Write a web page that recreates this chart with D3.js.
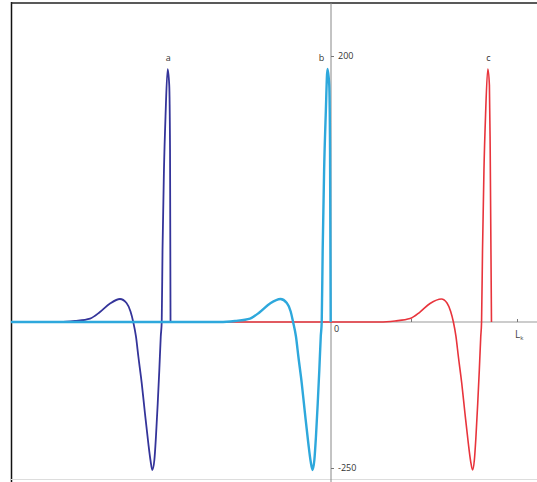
<!DOCTYPE html>
<meta charset="utf-8">
<style>
body { margin: 0; background: #fff; }
svg text { font-family: "Open Sans", "DejaVu Sans", sans-serif; }
.axis .domain { display: none; }
.axis line { stroke: #777; }
.axis text, .curveLabel, .origin { font-size: 9px; fill: #333; }
.lk { font-size: 10px; fill: #444; }
</style>
<svg width="537" height="482"></svg>
<script src="https://d3js.org/d3.v7.min.js"></script>
<script>
// curves: [x, value], each drops back to 0 at its end
var curveA = [[-2.0,0],[-1.694,0],[-1.6,0.8],[-1.506,2.6],[-1.444,7.5],[-1.381,13.9],[-1.319,17.3],
  [-1.278,14.3],[-1.253,7.9],[-1.236,0],[-1.219,-24.8],[-1.204,-59.1],[-1.183,-104.5],[-1.163,-155.8],
  [-1.142,-207.2],[-1.127,-238.9],[-1.117,-253.4],[-1.104,-236.3],[-1.094,-196.1],[-1.083,-139.6],
  [-1.073,-82.2],[-1.064,-24.8],[-1.058,0],[-1.053,54.1],[-1.044,114.3],[-1.034,155.6],[-1.021,190.2],
  [-1.011,178.2],[-1.006,129.3],[-1.003,0]];
var curveB = [[-2.0,0],[-0.694,0],[-0.6,0.8],[-0.506,2.6],[-0.444,7.5],[-0.381,13.9],[-0.316,17.3],
  [-0.276,14.3],[-0.252,7.9],[-0.237,0],[-0.219,-24.8],[-0.204,-59.1],[-0.183,-104.5],[-0.163,-155.8],
  [-0.142,-207.2],[-0.127,-238.9],[-0.115,-253.4],[-0.104,-236.3],[-0.094,-196.1],[-0.083,-139.6],
  [-0.073,-82.2],[-0.064,-24.8],[-0.058,0],[-0.052,54.1],[-0.043,114.3],[-0.033,155.6],[-0.022,190.2],
  [-0.011,178.2],[-0.006,129.3],[-0.002,0]];
var curveC = [[-2.0,0],[0.306,0],[0.4,0.8],[0.494,2.6],[0.556,7.5],[0.619,13.9],[0.69,17.3],
  [0.725,14.3],[0.748,7.9],[0.765,0],[0.781,-24.8],[0.796,-59.1],[0.817,-104.5],[0.837,-155.8],
  [0.858,-207.2],[0.873,-238.9],[0.885,-253.4],[0.896,-236.3],[0.906,-196.1],[0.917,-139.6],
  [0.927,-82.2],[0.936,-24.8],[0.941,0],[0.947,54.1],[0.956,114.3],[0.966,155.6],[0.98,190.2],
  [0.99,178.2],[0.995,129.3],[1.003,0]];
var curveNames = ["a", "b", "c"];
var curveColors = ["#34349a", "#2ea8dc", "#e8343c"];
var curveWidths = [1.8, 2.4, 1.6];
var yTicks = [200, -250];
var xTicks = [0.5, 1.1625];
var lkValue = 1.1625;

var svg = d3.select("svg"),
    g = svg.append("g");

var x = d3.scaleLinear().domain([-2, 1.2875]).range([11, 537]);
var y = d3.scaleLinear().domain([-250, 0, 200]).range([468, 322, 56]);

// frame
g.append("line").attr("x1", 11.5).attr("x2", 11.5).attr("y1", 2).attr("y2", 482)
  .attr("stroke", "#111").attr("stroke-width", 1.5);
g.append("line").attr("x1", 11).attr("x2", 537).attr("y1", 3).attr("y2", 3)
  .attr("stroke", "#222").attr("stroke-width", 1.5);
g.append("line").attr("x1", 11).attr("x2", 537).attr("y1", 479.5).attr("y2", 479.5)
  .attr("stroke", "#ddd");

// axes lines
g.append("line").attr("x1", x(0)).attr("x2", x(0)).attr("y1", 3).attr("y2", 482)
  .attr("stroke", "#888");
g.append("line").attr("x1", 11).attr("x2", 537).attr("y1", y(0)).attr("y2", y(0))
  .attr("stroke", "#999");

g.append("g")
  .attr("class", "axis")
  .attr("transform", "translate(" + x(0) + ",0)")
  .call(d3.axisRight(y).tickValues(yTicks).tickSize(3).tickPadding(4)
    .tickFormat(function(d) { return String(d); }));

g.append("g")
  .attr("class", "axis")
  .attr("transform", "translate(0," + y(0) + ")")
  .call(d3.axisTop(x).tickValues(xTicks).tickSize(3).tickFormat(""));

g.append("text").attr("class", "origin")
  .attr("x", x(0) + 3).attr("y", y(0) + 10).text("0");

var lk = g.append("text").attr("class", "lk")
  .attr("x", x(lkValue) - 2).attr("y", y(0) + 16).text("L");
lk.append("tspan").attr("font-size", "6px").attr("dy", 2).text("k");

var line = d3.line()
  .x(function(d) { return x(d[0]); })
  .y(function(d) { return y(d[1]); })
  .curve(d3.curveMonotoneX);

var curves = [curveA, curveC, curveB];
var order = [0, 2, 1];
order.forEach(function(k, i) {
  g.append("path")
    .attr("fill", "none")
    .attr("stroke", curveColors[k])
    .attr("stroke-width", curveWidths[k])
    .attr("stroke-linejoin", "round")
    .attr("d", line(curves[i]));
});

// labels a, b, c above each spike
var peaks = [curveA, curveB, curveC].map(function(c) {
  return c.reduce(function(p, d) { return d[1] > p[1] ? d : p; });
});
g.selectAll(".curveLabel")
  .data(peaks)
  .enter().append("text")
  .attr("class", "curveLabel")
  .attr("text-anchor", "middle")
  .attr("x", function(d, i) { return x(d[0]) - (i === 1 ? 6 : -0.5); })
  .attr("y", function(d) { return y(d[1]) - 8; })
  .text(function(d, i) { return curveNames[i]; });
</script>
